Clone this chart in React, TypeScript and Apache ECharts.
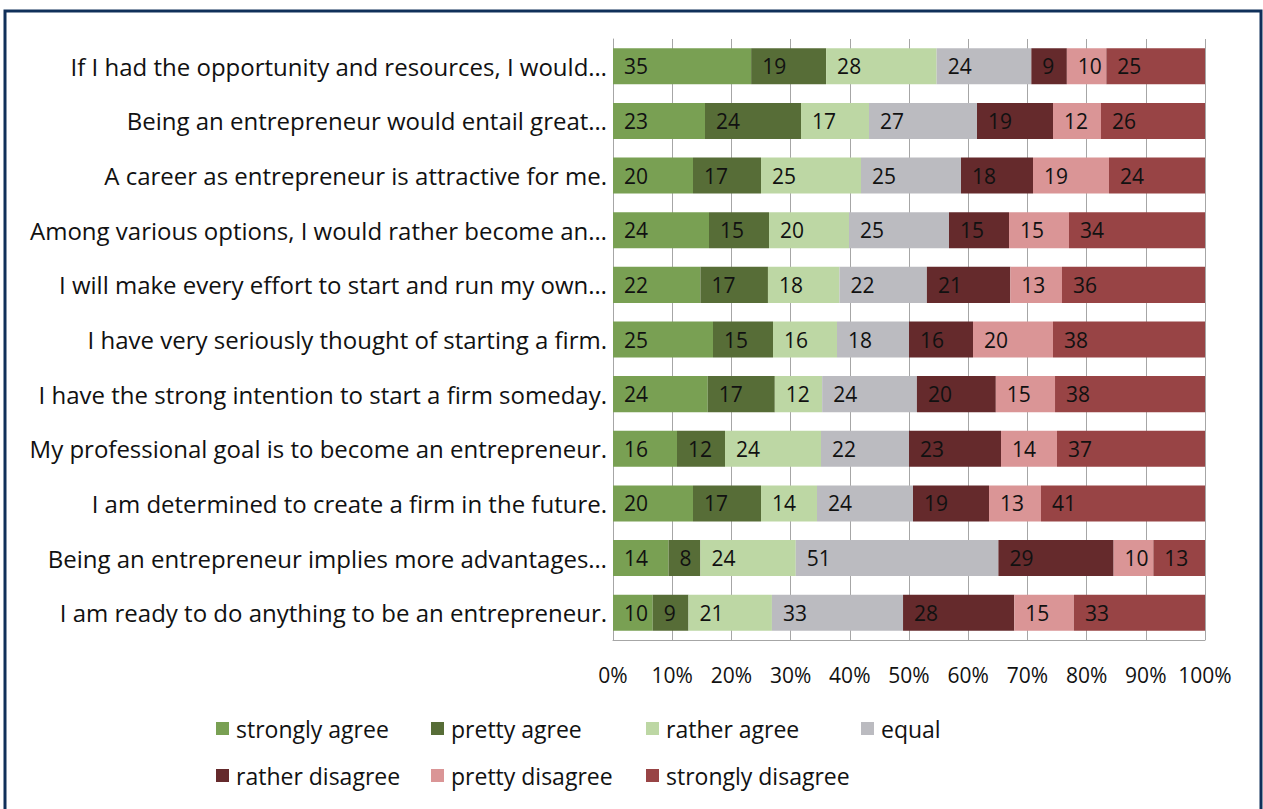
import React, { useEffect, useRef } from "react";
import * as echarts from "echarts";

const categories = [
  "If I had the opportunity and resources, I would…",
  "Being an entrepreneur would entail great…",
  "A career as entrepreneur is attractive for me.",
  "Among various options, I would rather become an…",
  "I will make every effort to start and run my own…",
  "I have very seriously thought of starting a firm.",
  "I have the strong intention to start a firm someday.",
  "My professional goal is to become an entrepreneur.",
  "I am determined to create a firm in the future.",
  "Being an entrepreneur implies more advantages…",
  "I am ready to do anything to be an entrepreneur.",
];

const seriesNames = [
  "strongly agree",
  "pretty agree",
  "rather agree",
  "equal",
  "rather disagree",
  "pretty disagree",
  "strongly disagree",
];

const stronglyAgree = [35, 23, 20, 24, 22, 25, 24, 16, 20, 14, 10];
const prettyAgree = [19, 24, 17, 15, 17, 15, 17, 12, 17, 8, 9];
const ratherAgree = [28, 17, 25, 20, 18, 16, 12, 24, 14, 24, 21];
const equal = [24, 27, 25, 25, 22, 18, 24, 22, 24, 51, 33];
const ratherDisagree = [9, 19, 18, 15, 21, 16, 20, 23, 19, 29, 28];
const prettyDisagree = [10, 12, 19, 15, 13, 20, 15, 14, 13, 10, 15];
const stronglyDisagree = [25, 26, 24, 34, 36, 38, 38, 37, 41, 13, 33];

const colors = ["#79a053", "#576d37", "#bdd7a4", "#bbbbc0", "#652a2c", "#da9596", "#984445"];

const FONT = "Open Sans";

export default function App() {
  const ref = useRef<HTMLDivElement>(null);
  useEffect(() => {
    if (!ref.current) return;
    const chart = echarts.init(ref.current, null, { renderer: "svg" });
    const counts = [stronglyAgree, prettyAgree, ratherAgree, equal, ratherDisagree, prettyDisagree, stronglyDisagree];
    const totals = categories.map((_, i) => counts.reduce((s, arr) => s + arr[i], 0));
    const series = counts.map((arr, k) => ({
      name: seriesNames[k],
      type: "bar",
      stack: "total",
      barCategoryGap: "34%",
      itemStyle: { color: colors[k] },
      label: {
        show: true,
        position: "insideLeft",
        distance: 11,
        color: "#111",
        fontFamily: FONT,
        fontSize: 21,
        formatter: (p: any) => String(arr[p.dataIndex]),
      },
      data: arr.map((v, i) => (v / totals[i]) * 100),
    }));
    const legendLefts = [216, 431, 646, 861, 216, 431, 646];
    const legendTops = [717, 717, 717, 717, 764, 764, 764];
    const legends = seriesNames.map((n, k) => ({
      left: legendLefts[k],
      top: legendTops[k],
      padding: 0,
      itemWidth: 13,
      itemHeight: 13,
      itemGap: 0,
      icon: "rect",
      textStyle: { fontFamily: FONT, fontSize: 23, color: "#111", padding: [0, 0, 0, 2] },
      data: [n],
    }));
    chart.setOption({
      animation: false,
      backgroundColor: "#ffffff",
      grid: { left: 613, right: 58, top: 39, bottom: 169, containLabel: false },
      legend: legends,
      xAxis: {
        type: "value",
        min: 0,
        max: 100,
        interval: 10,
        axisLine: { show: true, lineStyle: { color: "#a6a6a6", width: 1 } },
        axisTick: { show: false },
        splitLine: { show: true, lineStyle: { color: "#a6a6a6", width: 1 } },
        axisLabel: {
          formatter: "{value}%",
          fontFamily: FONT,
          fontSize: 21,
          color: "#111",
          margin: 24,
          showMaxLabel: true,
        },
      },
      yAxis: {
        type: "category",
        inverse: true,
        data: categories,
        axisLine: { show: true, lineStyle: { color: "#a6a6a6", width: 1 } },
        axisTick: { show: false },
        axisLabel: { fontFamily: FONT, fontSize: 24, color: "#111", margin: 6 },
      },
      graphic: [
        {
          type: "rect",
          shape: { x: 5, y: 11, width: 1256, height: 820 },
          style: { fill: "none", stroke: "#10305a", lineWidth: 3 },
          silent: true,
        },
      ],
      series,
    });
    return () => chart.dispose();
  }, []);
  return (
    <div
      ref={ref}
      style={{ position: "fixed", left: 0, top: 0, width: 1263, height: 809 }}
    />
  );
}
